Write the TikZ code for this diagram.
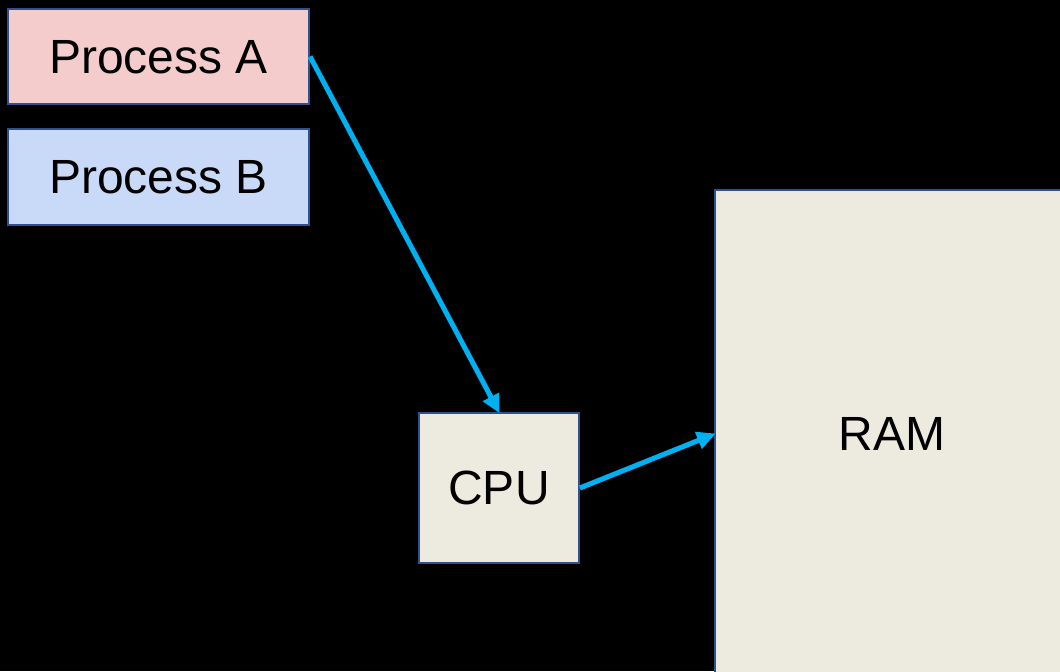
\documentclass[tikz,border=0pt]{standalone}
\usepackage{fontspec}
\setmainfont{Liberation Sans}
\usepackage{tikz}
\usetikzlibrary{arrows.meta,positioning}
\definecolor{procA}{HTML}{F4CCCC}
\definecolor{procB}{HTML}{C9DAF8}
\definecolor{hw}{HTML}{EDEBE0}
\definecolor{edge}{HTML}{2F528F}
\definecolor{flow}{HTML}{00B0F0}

\begin{document}
\begin{tikzpicture}[x=0.75pt, y=-0.75pt, >={Triangle[length=14pt, width=13pt]},
  box/.style={draw=edge, line width=1.3pt, font=\fontsize{36}{40}\selectfont, inner sep=0pt, text depth=0pt, yshift=-0pt},
  link/.style={->, flow, line width=3.8pt, shorten >=-1pt}]
\fill[black] (0,0) rectangle (1060,671);
\useasboundingbox (0,0) rectangle (1060,671);
\clip (0,0) rectangle (1060,671);
\node[box, fill=procA, minimum width=226pt, minimum height=71pt] (pa) at (158.5,56.5) {Process A};
\node[box, fill=procB, minimum width=226pt, minimum height=72pt] (pb) at (158.5,177) {Process B};
\node[box, fill=hw, minimum width=120pt, minimum height=112.5pt] (cpu) at (499,488) {CPU};
\node[box, fill=hw, minimum width=265pt, minimum height=366pt] (ram) at (892,434) {RAM};
\draw[link] (pa.east) -- (cpu.north);
\draw[link] (cpu.east) -- (ram.west);
\end{tikzpicture}
\end{document}
